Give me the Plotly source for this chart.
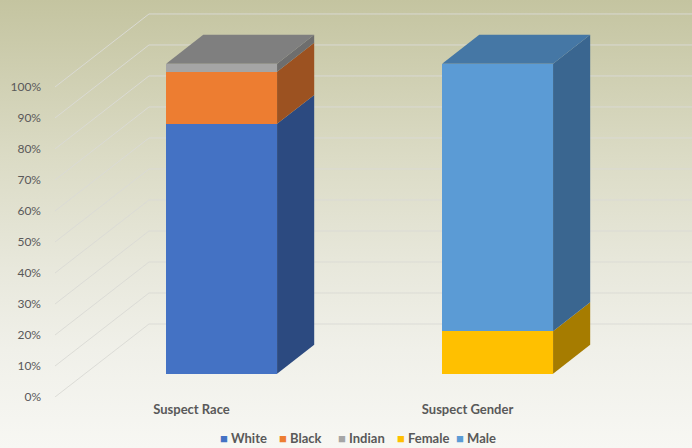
import base64
import plotly.graph_objects as go

# ---------------- data ----------------
categories = ["Suspect Race", "Suspect Gender"]
series_names = ["White", "Black", "Indian", "Female", "Male"]
# share (%) of each series in each category (0 where not applicable)
white = [80.6, 0]
black = [16.8, 0]
indian = [2.6, 0]
female = [0, 13.7]
male = [0, 86.3]
y_ticks = [0, 10, 20, 30, 40, 50, 60, 70, 80, 90, 100]
y_tick_labels = ["0%", "10%", "20%", "30%", "40%", "50%", "60%", "70%", "80%", "90%", "100%"]

# ---------------- style ----------------
front_colors = ["#4472C4", "#ED7D31", "#A5A5A5", "#FFC000", "#5B9BD5"]
side_colors = ["#2C4A80", "#9C5221", "#6E6E6E", "#A67C00", "#3A6690"]
top_colors = ["#3A5FA0", "#B5601F", "#7F7F7F", "#C09000", "#4577A5"]

# oblique projection parameters (data units)
DXW, DYW = 0.3406, 23.55        # full depth offset (front plane -> back wall)
T_FRONT, T_BACK = 0.32, 0.715   # bar front / back depth fraction
BW = 0.402                      # bar width
X_RANGE = [-0.4946, 1.8134]
Y_RANGE = [0, 128.06]

series_vals = [white, black, indian, female, male]


def proj(x, v, t):
    return x + t * DXW, v + t * DYW


fig = go.Figure()

# gridlines: floor diagonal + back wall horizontal (as shapes below traces)
shapes = []
for v in y_ticks:
    x0, y0 = X_RANGE[0], v
    x1, y1 = proj(X_RANGE[0], v, 1.0)
    shapes.append(dict(type="path", xref="x", yref="y", layer="below",
                       path=f"M{x0},{y0} L{x1},{y1} L{X_RANGE[1]},{y1}",
                       line=dict(color="rgba(218,218,213,0.95)", width=1)))

# bars
cum = [0.0 for _ in categories]
top_seg = [None for _ in categories]
for k, (name, vals) in enumerate(zip(series_names, series_vals)):
    xs, bases, ys = [], [], []
    for i, v in enumerate(vals):
        if v <= 0:
            continue
        b = cum[i]
        fx, fy = proj(i, b, T_FRONT)
        xs.append(fx)
        bases.append(fy)
        ys.append(v)
        # side face
        xr = i + BW / 2
        p1 = proj(xr, b, T_FRONT)
        p2 = proj(xr, b, T_BACK)
        p3 = proj(xr, b + v, T_BACK)
        p4 = proj(xr, b + v, T_FRONT)
        fig.add_trace(go.Scatter(
            x=[p1[0], p2[0], p3[0], p4[0], p1[0]],
            y=[p1[1], p2[1], p3[1], p4[1], p1[1]],
            mode="lines", fill="toself", fillcolor=side_colors[k],
            line=dict(width=0, color=side_colors[k]), legendgroup=name,
            showlegend=False, hoverinfo="skip"))
        cum[i] = b + v
        top_seg[i] = k
    fig.add_trace(go.Bar(
        x=xs, y=ys, base=bases, width=BW, name=name, legendgroup=name,
        showlegend=False,
        marker=dict(color=front_colors[k], line=dict(width=0)),
        hovertemplate=name + ": %{y:.1f}%<extra></extra>"))
    # legend entry: coloured square glyph followed by the series name
    fig.add_trace(go.Scatter(
        x=[None], y=[None], mode="markers", legendgroup=name, showlegend=True,
        marker=dict(color="rgba(0,0,0,0)", size=1),
        name=f'<span style="color:{front_colors[k]}">■</span> {name}'))

# empty trailing legend slot so the last entry's text is not clipped
fig.add_trace(go.Scatter(x=[None], y=[None], mode="markers", showlegend=True,
                         marker=dict(color="rgba(0,0,0,0)", size=1), name=" ",
                         hoverinfo="skip"))

# top faces
for i, k in enumerate(top_seg):
    v = cum[i]
    xl, xr = i - BW / 2, i + BW / 2
    q = [proj(xl, v, T_FRONT), proj(xr, v, T_FRONT), proj(xr, v, T_BACK), proj(xl, v, T_BACK)]
    fig.add_trace(go.Scatter(
        x=[p[0] for p in q] + [q[0][0]], y=[p[1] for p in q] + [q[0][1]],
        mode="lines", fill="toself", fillcolor=top_colors[k],
        line=dict(width=0, color=top_colors[k]),
        showlegend=False, hoverinfo="skip"))

# background gradient
svg = ('<svg xmlns="http://www.w3.org/2000/svg" width="100" height="100" preserveAspectRatio="none">'
       '<defs><linearGradient id="g" x1="0" y1="0" x2="0" y2="1">'
       '<stop offset="0" stop-color="#C4C4A0"/>'
       '<stop offset="0.35" stop-color="#DBDBC5"/>'
       '<stop offset="0.6" stop-color="#E8E8DC"/>'
       '<stop offset="0.78" stop-color="#F0F0E9"/>'
       '<stop offset="1" stop-color="#F7F7F3"/>'
       '</linearGradient></defs><rect width="100" height="100" fill="url(#g)"/></svg>')
src = "data:image/svg+xml;base64," + base64.b64encode(svg.encode()).decode()

W, H = 692, 448
ML, MR, MT, MB = 55, 0, 0, 51
pw, ph = W - ML - MR, H - MT - MB

fig.update_layout(
    width=W, height=H,
    margin=dict(l=ML, r=MR, t=MT, b=MB, pad=0),
    paper_bgcolor="#EEEEE6", plot_bgcolor="rgba(0,0,0,0)",
    barmode="overlay", bargap=0,
    shapes=shapes,
    images=[dict(source=src, xref="paper", yref="paper", x=-ML / pw, y=1 + MT / ph,
                 sizex=W / pw, sizey=H / ph, sizing="stretch", layer="below",
                 xanchor="left", yanchor="top")],
    xaxis=dict(range=X_RANGE, tickvals=[0, 1], ticktext=categories, showgrid=False,
               zeroline=False, showline=False, ticks="", ticklabelstandoff=3,
               tickfont=dict(family="Lato", size=13, color="#595959", weight=700)),
    yaxis=dict(range=Y_RANGE, tickvals=y_ticks, ticktext=y_tick_labels, showgrid=False,
               zeroline=False, showline=False, ticks="", ticklabelstandoff=13,
               tickfont=dict(family="Lato", size=12, color="#595959")),
    legend=dict(orientation="h", xref="container", yref="container",
                x=180 / W, xanchor="left", y=(H - 438) / H, yanchor="middle",
                itemwidth=30, entrywidth=14, entrywidthmode="pixels",
                traceorder="normal", bgcolor="rgba(0,0,0,0)",
                font=dict(family="Lato", size=13, color="#595959", weight=700)),
    showlegend=True,
)

fig.write_html("out.html", config={"displayModeBar": False},
               post_script="document.body.style.margin='0px';")
